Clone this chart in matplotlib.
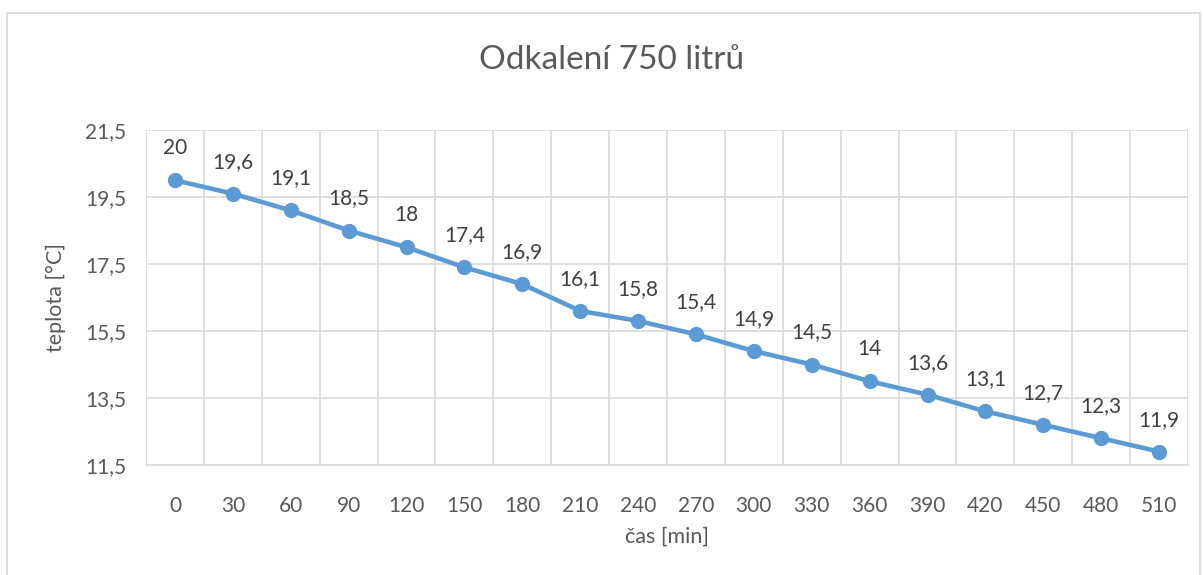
import matplotlib.pyplot as plt
from matplotlib.patches import Rectangle

plt.rcParams['font.family'] = ['Lato', 'DejaVu Sans']

cas = [0, 30, 60, 90, 120, 150, 180, 210, 240, 270, 300, 330, 360, 390, 420, 450, 480, 510]
teplota = [20, 19.6, 19.1, 18.5, 18, 17.4, 16.9, 16.1, 15.8, 15.4, 14.9, 14.5, 14, 13.6, 13.1, 12.7, 12.3, 11.9]
y_ticks = [11.5, 13.5, 15.5, 17.5, 19.5, 21.5]

text_color = '#595959'
grid_color = '#D9D9D9'
line_color = '#5B9BD5'

fig = plt.figure(figsize=(12.03, 5.75), dpi=100)
W, H = 1203, 575
fig.patches.append(Rectangle((7 / W, -0.01), (1200 - 7) / W, 1 - 13 / H + 0.01,
                             transform=fig.transFigure, fill=False,
                             edgecolor=grid_color, linewidth=1.2))

ax = fig.add_axes([146 / W, 1 - 465 / H, (1188 - 146) / W, (465 - 130) / H])
x = list(range(len(cas)))
ax.plot(x, teplota, color=line_color, linewidth=3.3, marker='o', markersize=10, zorder=3)

def fmt(v):
    s = ('%g' % v).replace('.', ',')
    return s

for xi, v in zip(x, teplota):
    ax.annotate(fmt(v), (xi, v), xytext=(0, 23), textcoords='offset points',
                ha='center', va='center', fontsize=15, color='#404040')

ax.set_xlim(-0.5, len(cas) - 0.5)
ax.set_ylim(11.5, 21.5)
ax.set_xticks(x)
ax.set_xticklabels([str(c) for c in cas])
ax.set_xticks([i - 0.5 for i in range(len(cas) + 1)], minor=True)
ax.set_yticks(y_ticks)
ax.set_yticklabels([fmt(t) for t in y_ticks])
ax.grid(True, which='minor', axis='x', color=grid_color, linewidth=1.2)
ax.grid(True, which='major', axis='y', color=grid_color, linewidth=1.2)
ax.tick_params(which='both', length=0, colors=text_color, labelsize=15)
ax.tick_params(axis='x', pad=22)
ax.tick_params(axis='y', pad=14)
for s in ['top', 'right', 'left']:
    ax.spines[s].set_visible(False)
ax.spines['bottom'].set_color(grid_color)
ax.spines['bottom'].set_linewidth(1.2)

ax.set_xlabel('čas [min]', fontsize=15.5, color=text_color, labelpad=8)
ax.set_ylabel('teplota [°C]', fontsize=15.5, color=text_color, labelpad=14)
fig.text(612 / W, 1 - 60 / H, 'Odkalení 750 litrů', ha='center', va='center',
         fontsize=24, color=text_color)

fig.savefig('out.png', dpi=100)
